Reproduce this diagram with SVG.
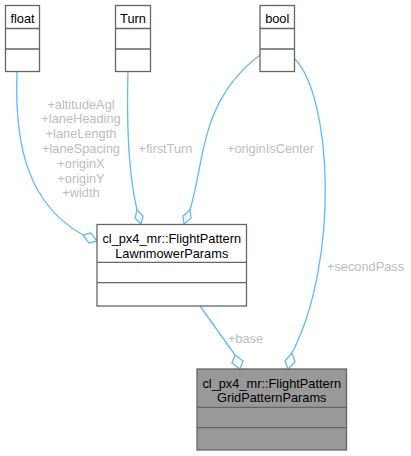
<svg xmlns="http://www.w3.org/2000/svg" width="411" height="456" viewBox="0 0 411 456">
<style>
  .box{fill:#ffffff;stroke:#666666;stroke-width:1.3}
  .cur{fill:#999999;stroke:#666666;stroke-width:1.3}
  .sep{stroke:#666666;stroke-width:1.3}
  .nt{font-family:"Liberation Sans",Arial,sans-serif;font-size:12.8px;fill:#000000;text-anchor:middle}
  .lb{font-family:"Liberation Sans",Arial,sans-serif;font-size:12.8px;fill:#bdbdbd;text-anchor:middle}
  .e{fill:none;stroke:#63b8ff;stroke-width:1.3}
  .d{fill:#ffffff;stroke:#63b8ff;stroke-width:1.3}
</style>
<rect width="411" height="456" fill="#ffffff"/>
<g id="edges">
  <path class="e" d="M17,71 C14,150 30,205 83,235"/>
  <polygon class="d" points="97,241 89,243 83,235 91,233"/>
  <path class="e" d="M128,71 C126,140 130,180 137,210"/>
  <polygon class="d" points="141,224 135,218 137,210 143,216"/>
  <path class="e" d="M260,55 C200,100 205,160 190,210"/>
  <polygon class="d" points="184,224 183,216 190,210 191,218"/>
  <path class="e" d="M294,58 C332,95 340,260 292,353"/>
  <polygon class="d" points="288,369 285,361 292,353 295,362"/>
  <path class="e" d="M200,306 L235,355"/>
  <polygon class="d" points="240,369 232,363 235,355 243,361"/>
  <text class="lb" x="81" y="108.5">+altitudeAgl</text>
  <text class="lb" x="81" y="123.3">+laneHeading</text>
  <text class="lb" x="81" y="138.1">+laneLength</text>
  <text class="lb" x="81" y="152.9">+laneSpacing</text>
  <text class="lb" x="81" y="167.7">+originX</text>
  <text class="lb" x="81" y="182.5">+originY</text>
  <text class="lb" x="81" y="197.3">+width</text>
  <text class="lb" x="165.5" y="152.7">+firstTurn</text>
  <text class="lb" x="270.5" y="152.7">+originIsCenter</text>
  <text class="lb" x="365.5" y="271">+secondPass</text>
  <text class="lb" x="245.5" y="342.5">+base</text>
</g>
<g id="float">
  <rect class="box" x="5.5" y="5.5" width="34" height="66"/>
  <line class="sep" x1="5.5" y1="28.5" x2="39.5" y2="28.5"/>
  <line class="sep" x1="5.5" y1="49" x2="39.5" y2="49"/>
  <text class="nt" x="22.5" y="22.5">float</text>
</g>
<g id="Turn">
  <rect class="box" x="115.5" y="5.5" width="35" height="66"/>
  <line class="sep" x1="115.5" y1="28.5" x2="150.5" y2="28.5"/>
  <line class="sep" x1="115.5" y1="49" x2="150.5" y2="49"/>
  <text class="nt" x="133" y="22.5">Turn</text>
</g>
<g id="bool">
  <rect class="box" x="260" y="5.5" width="34.5" height="66"/>
  <line class="sep" x1="260" y1="28.5" x2="294.5" y2="28.5"/>
  <line class="sep" x1="260" y1="49" x2="294.5" y2="49"/>
  <text class="nt" x="277.25" y="22.5">bool</text>
</g>
<g id="LawnmowerParams">
  <rect class="box" x="97" y="224.5" width="149.5" height="81.5"/>
  <line class="sep" x1="97" y1="262.3" x2="246.5" y2="262.3"/>
  <line class="sep" x1="97" y1="282.7" x2="246.5" y2="282.7"/>
  <text class="nt" x="171.75" y="243">cl_px4_mr::FlightPattern</text>
  <text class="nt" x="171.75" y="257.5">LawnmowerParams</text>
</g>
<g id="GridPatternParams">
  <rect class="cur" x="197" y="369" width="149.5" height="81"/>
  <line class="sep" x1="197" y1="407.3" x2="346.5" y2="407.3"/>
  <line class="sep" x1="197" y1="427.7" x2="346.5" y2="427.7"/>
  <text class="nt" x="271.75" y="387.5">cl_px4_mr::FlightPattern</text>
  <text class="nt" x="271.75" y="401.8">GridPatternParams</text>
</g>
</svg>
